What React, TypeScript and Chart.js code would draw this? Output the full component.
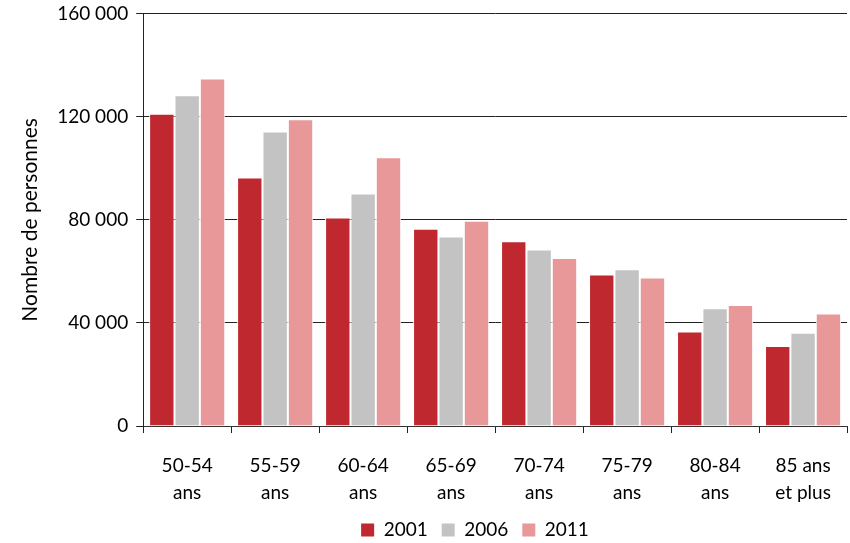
import React, { useEffect, useRef } from "react";
import { Chart, registerables } from "chart.js";

Chart.register(...registerables);

const categories: string[][] = [
  ["50-54", "ans"],
  ["55-59", "ans"],
  ["60-64", "ans"],
  ["65-69", "ans"],
  ["70-74", "ans"],
  ["75-79", "ans"],
  ["80-84", "ans"],
  ["85 ans", "et plus"],
];

const values2001 = [121200, 96400, 80900, 76600, 71700, 58800, 36700, 31100];
const values2006 = [128400, 114300, 90200, 73500, 68500, 60800, 45700, 36200];
const values2011 = [134900, 119000, 104300, 79700, 65200, 57600, 47000, 43700];

const yTicks = [0, 40000, 80000, 120000, 160000];

const FONT = "Lato, 'Open Sans', sans-serif";

function fmt(v: number): string {
  return String(v).replace(/\B(?=(\d{3})+(?!\d))/g, " ");
}

const legendShift = {
  id: "legendShift",
  afterLayout(chart: any) {
    const lg = chart.legend;
    if (!lg) return;
    lg.left += 84;
    lg.top -= 18.5;
  },
};

export default function App() {
  const ref = useRef<HTMLCanvasElement | null>(null);

  useEffect(() => {
    document.body.style.margin = "0";
    const ctx = ref.current;
    if (!ctx) return;
    const chart = new Chart(ctx, {
      type: "bar",
      plugins: [legendShift],
      data: {
        labels: categories,
        datasets: [
          { label: "2001", data: values2001, backgroundColor: "#BF282F", borderColor: "#ffffff", borderWidth: 1 },
          { label: "2006", data: values2006, backgroundColor: "#C3C3C3", borderColor: "#ffffff", borderWidth: 1 },
          { label: "2011", data: values2011, backgroundColor: "#E9989A", borderColor: "#ffffff", borderWidth: 1 },
        ],
      },
      options: {
        responsive: false,
        animation: false,
        layout: { padding: { top: 0, right: 2, left: 18, bottom: 0 } },
        datasets: { bar: { barPercentage: 1, categoryPercentage: 0.865 } },
        plugins: {
          legend: {
            position: "bottom",
            maxHeight: 18,
            labels: {
              boxWidth: 13,
              boxHeight: 13,
              padding: 14,
              color: "#000",
              font: { family: FONT, size: 19 },
              generateLabels: (c: any) =>
                c.data.datasets.map((d: any, i: number) => ({
                  text: d.label,
                  fillStyle: d.backgroundColor,
                  strokeStyle: d.backgroundColor,
                  lineWidth: 0,
                  datasetIndex: i,
                  fontColor: "#000",
                })),
            },
          },
          tooltip: { enabled: false },
        },
        scales: {
          x: {
            grid: { drawOnChartArea: false, drawTicks: true, tickLength: 7, color: "#222", offset: true },
            border: { color: "#333" },
            ticks: { color: "#000", font: { family: FONT, size: 19, lineHeight: 1.42 }, padding: 19, maxRotation: 0 },
          },
          y: {
            min: 0,
            max: 160000,
            afterBuildTicks: (axis: any) => {
              axis.ticks = yTicks.map((v) => ({ value: v }));
            },
            grid: { color: "#222", lineWidth: 1, tickLength: 7 },
            border: { color: "#222" },
            ticks: {
              color: "#000",
              font: { family: FONT, size: 19, lineHeight: 0.6 },
              padding: 8,
              callback: (v: any) => fmt(Number(v)),
            },
            title: {
              display: true,
              text: "Nombre de personnes",
              color: "#000",
              font: { family: FONT, size: 21 },
              padding: { top: 0, bottom: 6 },
            },
          },
        },
      },
    });
    return () => chart.destroy();
  }, []);

  return (
    <div style={{ width: 850, height: 543, background: "#fff" }}>
      <canvas ref={ref} width={850} height={543} />
    </div>
  );
}
